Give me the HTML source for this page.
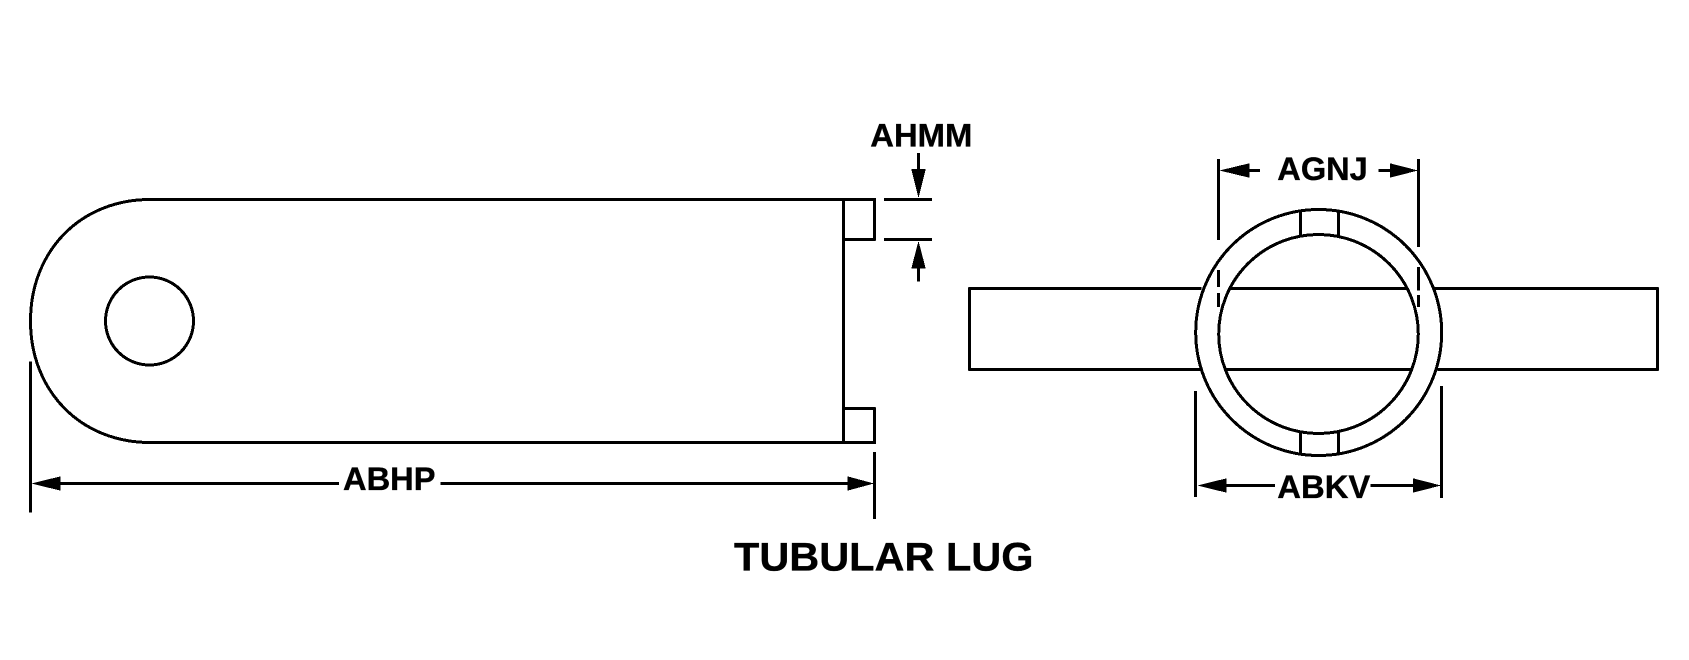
<!DOCTYPE html>
<html>
<head>
<meta charset="utf-8">
<style>
html,body{margin:0;padding:0;background:#fff;width:1689px;height:660px;overflow:hidden}
svg{display:block;shape-rendering:crispEdges}
text{font-family:"Liberation Sans",Arial,sans-serif;font-weight:bold;fill:#000;stroke:#000;stroke-width:.35}
.l{stroke:#000;stroke-width:3;fill:none;stroke-linejoin:round}
.a{fill:#000;stroke:none}
</style>
</head>
<body>
<svg width="1689" height="660" viewBox="0 0 1689 660" xmlns="http://www.w3.org/2000/svg">
<rect width="1689" height="660" fill="#fff"/>
<!-- left view -->
<path class="l" d="M875 199.5H150C81 199.5 30.5 250.5 30.5 321C30.5 391.5 81 442.5 150 442.5H875"/>
<ellipse class="l" cx="149.5" cy="321" rx="44" ry="44"/>
<path class="l" d="M843.5 199.5V442.5"/>
<path class="l" d="M874.5 198V239.5H843.5"/>
<path class="l" d="M843.5 408.5H874.5V444"/>
<!-- ABHP dimension -->
<path class="l" d="M30.5 361.5V512.5"/>
<path class="l" d="M874.5 452V519"/>
<path class="l" d="M58 483.5H339"/>
<path class="l" d="M440.5 483.5H850"/>
<path class="a" d="M31.5 483.5L60.7 476.3V490.7Z"/>
<path class="a" d="M874 483.5L847.3 476.3V490.7Z"/>
<text x="343" y="490.2" font-size="32.4" textLength="92.5" lengthAdjust="spacingAndGlyphs">ABHP</text>
<!-- AHMM dimension -->
<path class="l" d="M884 199.5H932"/>
<path class="l" d="M884 239.5H932"/>
<path class="l" d="M918.5 153V172"/>
<path class="l" d="M918.5 265V281.5"/>
<path class="a" d="M918.5 198L911.3 169H925.7Z"/>
<path class="a" d="M918.5 241L911.3 268.5H925.7Z"/>
<text x="870.3" y="146.6" font-size="32.6" textLength="102" lengthAdjust="spacingAndGlyphs">AHMM</text>
<!-- right view -->
<path class="l" d="M1201.7 288.5H969.5V369.5H1200"/>
<path class="l" d="M1433 288.5H1657.5V369.5H1437.3"/>
<path class="l" d="M1229.3 288.5H1406"/>
<path class="l" d="M1225 369.5H1411.7"/>
<ellipse class="l" cx="1318.7" cy="332.5" rx="123" ry="123"/>
<ellipse class="l" cx="1318.5" cy="334" rx="99.8" ry="99.5"/>
<path class="l" d="M1300.5 210V236.5"/>
<path class="l" d="M1338.5 210V236.5"/>
<path class="l" d="M1300.5 431V454"/>
<path class="l" d="M1338.5 431V454"/>
<!-- AGNJ dimension -->
<path class="l" d="M1218.5 159V240M1218.5 270V287M1218.5 293V307"/>
<path class="l" d="M1418.5 159V247M1418.5 267V290.5M1418.5 295V307"/>
<path class="l" d="M1245 170.5H1260"/>
<path class="l" d="M1378.5 170.5H1393"/>
<path class="a" d="M1219.5 170.5L1249.3 163.3V177.7Z"/>
<path class="a" d="M1418 170.5L1390 163.3V177.7Z"/>
<text x="1277.3" y="180" font-size="32.6" textLength="90.5" lengthAdjust="spacingAndGlyphs">AGNJ</text>
<!-- ABKV dimension -->
<path class="l" d="M1195.5 391V497"/>
<path class="l" d="M1441.5 386V498"/>
<path class="l" d="M1222 485.5H1275"/>
<path class="l" d="M1370.5 485.5H1416"/>
<path class="a" d="M1197.3 485.5L1226.7 478.3V492.7Z"/>
<path class="a" d="M1441 485.5L1413 478.3V492.7Z"/>
<text x="1277.3" y="498.2" font-size="32.6" textLength="93" lengthAdjust="spacingAndGlyphs">ABKV</text>
<!-- title -->
<text x="734" y="570.5" font-size="40" textLength="299.5" lengthAdjust="spacingAndGlyphs">TUBULAR LUG</text>
</svg>
</body>
</html>
